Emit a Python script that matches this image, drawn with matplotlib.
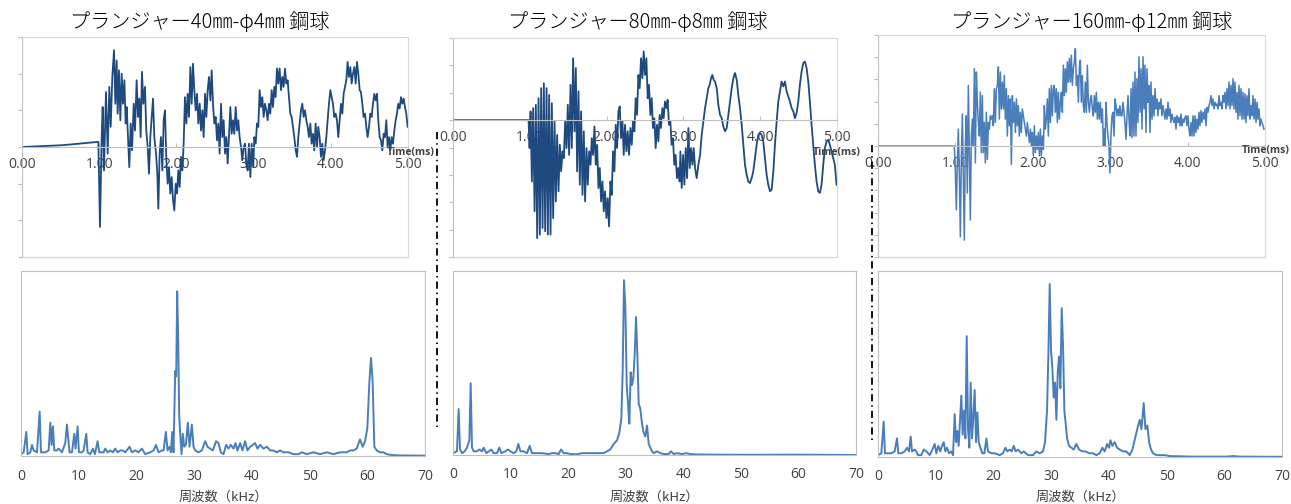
import matplotlib
matplotlib.use("Agg")
import matplotlib.pyplot as plt
from matplotlib.lines import Line2D

plt.rcParams['font.family'] = ['Noto Sans CJK JP', 'DejaVu Sans']

# -----------------------------
# DATA
# -----------------------------
titles = ["プランジャー40㎜-φ4㎜ 鋼球",
          "プランジャー80㎜-φ8㎜ 鋼球",
          "プランジャー160㎜-φ12㎜ 鋼球"]
time_ticks = [0, 1, 2, 3, 4, 5]
time_ticklabels = ["0.00", "1.00", "2.00", "3.00", "4.00", "5.00"]
freq_ticks = [0, 10, 20, 30, 40, 50, 60, 70]
time_label = "Time(ms)"
freq_label = "周波数（kHz）"

# waveform, 40mm plunger  (t [ms], amplitude)
wave_40 = [
    (0.000, 0.00), (0.530, 0.05), (0.989, 0.14), (1.010, -2.18), (1.032, 0.27),
    (1.045, 1.09), (1.062, -0.64), (1.088, 1.50), (1.110, -0.18), (1.131, 1.64),
    (1.149, 0.55), (1.170, 1.91), (1.192, 2.64), (1.209, 1.18), (1.226, 2.36),
    (1.239, 0.91), (1.256, 2.09), (1.274, 0.73), (1.291, 2.00), (1.308, 1.18),
    (1.326, 1.82), (1.343, 0.64), (1.356, 1.09), (1.373, 0.27), (1.390, -0.55),
    (1.408, 0.64), (1.425, -0.09), (1.447, 1.18), (1.464, 0.45), (1.485, 1.82),
    (1.503, 0.82), (1.520, 1.32), (1.537, 0.27), (1.554, 2.05), (1.572, 1.18),
    (1.593, 1.64), (1.610, 0.45), (1.628, 0.00), (1.645, -0.73), (1.662, 0.27),
    (1.680, 0.82), (1.697, 1.32), (1.714, 0.27), (1.736, -0.18), (1.753, -0.73),
    (1.766, -1.68), (1.783, -0.18), (1.800, 0.27), (1.818, -0.64), (1.835, 0.73),
    (1.852, 1.00), (1.870, -0.36), (1.887, -1.00), (1.904, -0.55), (1.921, -1.27),
    (1.939, -0.82), (1.956, -1.45), (1.973, -1.73), (1.991, -1.00), (2.008, -1.27),
    (2.025, -0.64), (2.042, -1.09), (2.060, -0.27), (2.077, -0.64), (2.094, 0.09),
    (2.111, 1.36), (2.129, 0.64), (2.146, 1.45), (2.163, 0.82), (2.181, 2.18),
    (2.198, 1.18), (2.215, 2.27), (2.232, 1.55), (2.250, 1.00), (2.267, 1.45),
    (2.284, 0.64), (2.302, 1.18), (2.319, 0.45), (2.336, 1.00), (2.353, 0.27),
    (2.371, 1.45), (2.388, 0.82), (2.405, 1.55), (2.422, 1.91), (2.440, 1.27),
    (2.457, 2.09), (2.474, 1.18), (2.491, 0.64), (2.509, 0.82), (2.526, 0.18),
    (2.543, 0.64), (2.560, -0.18), (2.578, 1.18), (2.595, 0.27), (2.612, 0.73),
    (2.630, -0.18), (2.647, 0.27), (2.664, -0.45), (2.681, 0.27), (2.699, 1.09),
    (2.716, 0.36), (2.733, 0.73), (2.750, 0.36), (2.768, 1.09), (2.785, 0.45),
    (2.802, 0.73), (2.819, 0.27), (2.837, 0.00), (2.854, -0.36), (2.871, 0.00),
    (2.889, 0.09), (2.906, -0.45), (2.923, -0.64), (2.940, 0.09), (2.958, -0.82),
    (2.975, 0.09), (2.996, -0.55), (3.009, 0.27), (3.027, 0.09), (3.044, 0.64),
    (3.061, 0.55), (3.078, 1.55), (3.096, 1.09), (3.113, 1.36), (3.130, 0.82),
    (3.147, 1.18), (3.165, 1.00), (3.182, 0.73), (3.199, 1.18), (3.216, 0.91),
    (3.234, 1.55), (3.251, 1.09), (3.268, 1.64), (3.285, 1.36), (3.303, 2.14),
    (3.320, 1.73), (3.337, 2.14), (3.355, 1.55), (3.372, 1.91), (3.389, 1.64),
    (3.406, 2.14), (3.424, 1.73), (3.441, 1.82), (3.458, 1.36), (3.475, 0.91),
    (3.493, 0.82), (3.510, 0.55), (3.527, 0.27), (3.545, -0.09), (3.562, -0.27),
    (3.579, 0.27), (3.596, 0.64), (3.614, 1.00), (3.631, 1.18), (3.648, 0.82),
    (3.665, 1.00), (3.683, 0.73), (3.700, 0.55), (3.717, 0.27), (3.735, 0.64),
    (3.752, 0.09), (3.769, 0.36), (3.786, -0.09), (3.804, 0.64), (3.821, 0.00),
    (3.838, 0.55), (3.855, 0.27), (3.873, -0.27), (3.890, 0.09), (3.907, -0.36),
    (3.925, -0.09), (3.942, 0.27), (3.959, 0.73), (3.976, 1.18), (3.994, 1.55),
    (4.011, 1.36), (4.028, 1.18), (4.045, 0.82), (4.063, 0.91), (4.080, 0.73),
    (4.097, 0.27), (4.115, 0.73), (4.132, 1.18), (4.149, 0.91), (4.166, 1.45),
    (4.184, 1.64), (4.201, 1.82), (4.218, 2.32), (4.235, 1.91), (4.253, 2.18),
    (4.270, 1.73), (4.287, 2.00), (4.305, 2.18), (4.322, 1.73), (4.339, 2.32),
    (4.356, 2.00), (4.374, 1.55), (4.391, 1.50), (4.408, 1.18), (4.425, 0.82),
    (4.443, 0.91), (4.460, 0.55), (4.477, 0.27), (4.495, 0.55), (4.512, 0.91),
    (4.529, 0.82), (4.546, 1.18), (4.564, 1.45), (4.581, 1.27), (4.598, 1.45),
    (4.615, 0.73), (4.633, 0.27), (4.650, 0.18), (4.667, -0.09), (4.685, 0.36),
    (4.702, 0.27), (4.719, 0.73), (4.736, 0.00), (4.754, 0.27), (4.771, -0.09),
    (4.788, 0.27), (4.805, 0.09), (4.823, 0.45), (4.840, 0.73), (4.857, 0.91),
    (4.874, 1.18), (4.892, 1.05), (4.909, 1.36), (4.926, 1.18), (4.944, 1.32),
    (4.961, 1.09), (4.978, 0.91), (4.995, 0.55),
]

# waveform, 80mm plunger
wave_80 = [
    (0.000, 0.00), (0.984, 0.00), (0.997, -1.02), (1.010, 0.32), (1.027, -2.24),
    (1.044, 0.44), (1.062, -3.33), (1.079, 0.56), (1.096, -4.31), (1.114, 0.80),
    (1.131, -4.18), (1.148, 1.17), (1.166, -3.94), (1.183, 1.35), (1.200, -4.06),
    (1.218, 1.17), (1.235, -4.18), (1.252, 0.92), (1.270, -4.18), (1.287, 0.62),
    (1.304, -3.58), (1.322, -0.05), (1.339, -2.97), (1.356, -0.54), (1.374, -2.60),
    (1.391, -0.90), (1.408, -1.87), (1.426, -1.14), (1.443, -1.39), (1.460, -0.05),
    (1.478, -1.02), (1.495, 0.56), (1.512, -1.27), (1.530, 1.29), (1.547, -1.02),
    (1.564, 2.26), (1.582, -0.41), (1.599, 1.90), (1.616, -1.87), (1.634, 1.05),
    (1.651, -2.36), (1.668, 0.32), (1.686, -2.73), (1.703, -0.41), (1.720, -2.97),
    (1.738, -1.02), (1.755, -2.36), (1.772, -1.14), (1.790, -1.63), (1.807, -0.66),
    (1.824, -1.27), (1.842, -0.23), (1.859, -1.63), (1.876, -0.90), (1.894, -2.48),
    (1.911, -1.75), (1.928, -2.97), (1.946, -2.24), (1.963, -3.33), (1.980, -2.60),
    (1.998, -3.58), (2.015, -2.85), (2.032, -3.88), (2.050, -2.24), (2.067, -2.73),
    (2.084, -1.14), (2.102, -1.87), (2.119, -0.17), (2.136, -1.02), (2.154, 0.32),
    (2.171, 0.50), (2.188, -0.66), (2.206, -0.05), (2.223, -1.27), (2.240, -0.17),
    (2.258, -1.14), (2.275, -0.41), (2.292, -1.27), (2.310, -0.29), (2.327, -0.90),
    (2.344, -0.05), (2.362, -0.41), (2.379, 0.80), (2.396, 0.19), (2.414, 1.65),
    (2.431, 1.17), (2.448, 2.26), (2.466, 1.53), (2.483, 2.51), (2.500, 1.65),
    (2.518, 2.26), (2.535, 0.80), (2.552, 1.29), (2.570, 0.19), (2.587, 0.80),
    (2.604, -0.29), (2.622, 0.07), (2.639, -1.02), (2.656, -0.17), (2.674, -0.78),
    (2.691, 0.19), (2.708, -0.29), (2.726, 0.44), (2.743, 0.07), (2.760, 0.68),
    (2.778, 0.44), (2.795, 0.74), (2.812, -0.17), (2.830, -0.05), (2.847, -0.90),
    (2.864, -0.66), (2.882, -1.63), (2.899, -1.27), (2.916, -2.12), (2.934, -1.75),
    (2.951, -2.24), (2.961, -1.14), (2.978, -2.48), (2.996, -1.27), (3.013, -2.36),
    (3.030, -1.02), (3.048, -2.12), (3.065, -0.29), (3.082, -1.75), (3.100, -1.02),
    (3.117, -1.63), (3.134, -1.02), (3.152, -1.75), (3.173, -2.12), (3.195, -1.63),
    (3.217, -1.27), (3.238, -0.54), (3.260, -0.05), (3.282, 0.44), (3.303, 0.80),
    (3.325, 1.17), (3.342, 1.29), (3.360, 1.53), (3.377, 1.65), (3.394, 1.47),
    (3.412, 1.41), (3.434, 1.17), (3.455, 0.56), (3.477, 0.19), (3.499, 0.07),
    (3.520, -0.23), (3.542, -0.41), (3.564, -0.29), (3.585, 0.19), (3.607, 0.68),
    (3.629, 1.17), (3.650, 1.53), (3.672, 1.72), (3.694, 1.47), (3.715, 0.92),
    (3.737, 0.44), (3.759, -0.17), (3.780, -0.90), (3.802, -1.63), (3.824, -2.00),
    (3.845, -2.24), (3.867, -2.30), (3.889, -2.12), (3.910, -1.87), (3.932, -1.39),
    (3.954, -0.90), (3.975, -0.54), (3.997, -0.47), (4.019, -0.54), (4.040, -0.78),
    (4.062, -1.39), (4.084, -2.00), (4.105, -2.36), (4.127, -2.60), (4.149, -2.54),
    (4.171, -1.87), (4.192, -0.90), (4.214, -0.05), (4.236, 0.68), (4.257, 1.05),
    (4.279, 1.41), (4.301, 1.23), (4.322, 1.41), (4.344, 1.05), (4.366, 0.86),
    (4.387, 0.68), (4.409, 0.44), (4.431, 0.32), (4.452, 0.07), (4.474, 0.26),
    (4.496, 0.68), (4.517, 1.29), (4.539, 1.78), (4.561, 2.08), (4.582, 2.14),
    (4.604, 1.90), (4.626, 1.41), (4.647, 0.68), (4.669, -0.17), (4.691, -0.90),
    (4.712, -1.63), (4.734, -2.24), (4.756, -2.60), (4.777, -2.66), (4.799, -2.36),
    (4.821, -1.63), (4.842, -1.02), (4.864, -0.78), (4.886, -0.72), (4.907, -0.90),
    (4.929, -1.14), (4.951, -1.39), (4.972, -1.63), (4.994, -2.36),
]

# waveform, 160mm plunger
wave_160 = [
    (0.000, 0.00), (0.986, 0.00), (0.999, -1.06), (1.012, -2.88), (1.025, -0.76),
    (1.038, 0.76), (1.051, -1.21), (1.064, -4.09), (1.077, -0.45), (1.090, 1.44),
    (1.103, -1.36), (1.115, -4.24), (1.128, 0.00), (1.141, 1.36), (1.154, -2.12),
    (1.167, 2.73), (1.180, -0.30), (1.193, -3.33), (1.206, 0.45), (1.219, 1.21),
    (1.232, 0.00), (1.245, 3.48), (1.258, -0.76), (1.271, 3.33), (1.284, 1.97),
    (1.296, 1.06), (1.309, 0.45), (1.322, 2.42), (1.335, -0.30), (1.348, 2.27),
    (1.361, -0.30), (1.374, 1.06), (1.387, -0.76), (1.400, 1.52), (1.413, -0.61),
    (1.426, 1.06), (1.439, 0.76), (1.452, 1.36), (1.465, 1.21), (1.477, 1.36),
    (1.490, 0.91), (1.503, 2.58), (1.516, 1.06), (1.529, 2.58), (1.542, 2.73),
    (1.555, 3.56), (1.568, 1.21), (1.581, 3.33), (1.594, 1.67), (1.607, 2.88),
    (1.620, 1.67), (1.632, 3.18), (1.645, 1.21), (1.658, 2.58), (1.671, 0.45),
    (1.684, 2.27), (1.697, 0.91), (1.710, 2.12), (1.723, -0.83), (1.736, 2.27),
    (1.749, 1.06), (1.762, 1.97), (1.775, 0.61), (1.788, 2.12), (1.801, 0.91),
    (1.813, 1.82), (1.826, 0.45), (1.839, 1.52), (1.852, 0.61), (1.865, 1.67),
    (1.878, 1.36), (1.891, 1.06), (1.904, 0.76), (1.917, 0.45), (1.930, 1.06),
    (1.943, 0.61), (1.956, 0.15), (1.969, 0.76), (1.982, 0.00), (1.994, 0.61),
    (2.007, -0.45), (2.020, 0.91), (2.033, -0.30), (2.046, 0.45), (2.059, -0.15),
    (2.072, 0.61), (2.085, -0.45), (2.098, 0.76), (2.111, -0.45), (2.124, 0.45),
    (2.137, -0.15), (2.149, 1.82), (2.162, 0.76), (2.175, 1.21), (2.188, 2.12),
    (2.201, 0.45), (2.214, 2.58), (2.227, 1.06), (2.240, 2.73), (2.253, 1.36),
    (2.266, 2.58), (2.278, 2.73), (2.291, 1.52), (2.304, 2.58), (2.317, 1.06),
    (2.330, 2.42), (2.343, 1.21), (2.356, 1.97), (2.369, 2.42), (2.382, 1.52),
    (2.395, 3.64), (2.408, 2.27), (2.421, 3.48), (2.433, 2.42), (2.446, 3.79),
    (2.459, 2.88), (2.472, 3.94), (2.485, 2.88), (2.498, 4.09), (2.511, 2.73),
    (2.524, 3.48), (2.537, 3.79), (2.550, 4.39), (2.563, 2.73), (2.576, 3.18),
    (2.589, 1.97), (2.601, 3.48), (2.614, 3.86), (2.627, 1.97), (2.640, 3.18),
    (2.653, 1.82), (2.666, 1.52), (2.679, 2.88), (2.692, 1.52), (2.705, 3.64),
    (2.718, 1.97), (2.731, 1.52), (2.744, 2.12), (2.756, 2.27), (2.769, 1.67),
    (2.782, 1.36), (2.795, 2.27), (2.808, 1.52), (2.821, 2.42), (2.834, 1.21),
    (2.847, 1.97), (2.860, 1.21), (2.873, 1.97), (2.886, 1.06), (2.899, 1.67),
    (2.912, 0.00), (2.924, 0.76), (2.933, 0.00), (2.946, 1.97), (2.958, 1.06),
    (2.971, 0.45), (2.984, 0.00), (2.997, -1.21), (3.010, 0.45), (3.023, 1.36),
    (3.036, 1.52), (3.049, 0.45), (3.062, 2.12), (3.075, 1.82), (3.088, 1.36),
    (3.101, 1.67), (3.113, 1.36), (3.126, 1.82), (3.139, 1.36), (3.152, 1.36),
    (3.165, 1.97), (3.178, 1.52), (3.191, 1.06), (3.204, 0.30), (3.217, 1.36),
    (3.230, 2.27), (3.243, 1.21), (3.256, 0.45), (3.269, 2.58), (3.281, 0.38),
    (3.294, 2.88), (3.307, 0.45), (3.320, 3.33), (3.333, 0.45), (3.346, 3.03),
    (3.359, 1.06), (3.372, 4.02), (3.385, 1.52), (3.398, 3.48), (3.411, 0.76),
    (3.424, 4.02), (3.437, 1.67), (3.449, 3.64), (3.462, 0.61), (3.475, 3.48),
    (3.488, 1.97), (3.501, 2.73), (3.514, 0.61), (3.527, 2.88), (3.540, 1.21),
    (3.553, 2.27), (3.566, 1.36), (3.579, 2.58), (3.592, 1.67), (3.605, 2.12),
    (3.617, 1.36), (3.630, 1.97), (3.643, 1.67), (3.656, 2.12), (3.669, 1.36),
    (3.682, 1.82), (3.695, 1.52), (3.708, 1.21), (3.721, 1.67), (3.734, 1.21),
    (3.747, 1.97), (3.760, 1.36), (3.772, 1.67), (3.785, 1.06), (3.798, 1.44),
    (3.811, 1.21), (3.824, 1.06), (3.837, 1.29), (3.850, 0.76), (3.863, 1.36),
    (3.876, 1.06), (3.889, 1.29), (3.902, 0.91), (3.915, 1.44), (3.928, 0.91),
    (3.940, 1.21), (3.953, 1.06), (3.966, 1.29), (3.979, 1.36), (3.992, 0.91),
    (4.005, 1.36), (4.018, 0.76), (4.031, 0.45), (4.044, 1.06), (4.057, 0.45),
    (4.070, 1.36), (4.083, 0.45), (4.096, 1.36), (4.108, 0.61), (4.121, 1.21),
    (4.134, 0.76), (4.147, 1.52), (4.160, 0.91), (4.173, 1.59), (4.186, 1.06),
    (4.199, 1.52), (4.212, 1.21), (4.225, 1.67), (4.238, 0.91), (4.251, 1.74),
    (4.264, 1.52), (4.276, 1.82), (4.289, 1.97), (4.302, 2.27), (4.315, 1.82),
    (4.328, 2.12), (4.341, 1.67), (4.354, 1.97), (4.367, 1.82), (4.380, 1.89),
    (4.393, 1.67), (4.406, 2.27), (4.419, 1.82), (4.431, 1.97), (4.444, 1.67),
    (4.457, 2.27), (4.470, 1.97), (4.483, 2.42), (4.496, 1.67), (4.509, 2.58),
    (4.522, 1.82), (4.535, 2.88), (4.548, 1.67), (4.561, 2.73), (4.574, 1.82),
    (4.587, 3.03), (4.599, 1.67), (4.612, 2.88), (4.625, 1.52), (4.638, 2.42),
    (4.651, 1.21), (4.664, 2.73), (4.677, 1.36), (4.690, 2.58), (4.703, 1.21),
    (4.716, 2.42), (4.729, 1.21), (4.742, 2.35), (4.754, 1.06), (4.767, 2.27),
    (4.780, 1.36), (4.793, 2.58), (4.806, 1.21), (4.819, 1.82), (4.832, 1.36),
    (4.845, 2.27), (4.858, 1.21), (4.871, 2.12), (4.884, 1.06), (4.897, 1.97),
    (4.910, 1.21), (4.922, 1.67), (4.935, 0.91), (4.948, 1.21), (4.961, 1.06),
    (4.974, 0.91), (4.987, 0.76),
]

# spectra (f [kHz], relative amplitude)
spec_40 = [
    (0.00, 0.01), (0.46, 0.02), (0.92, 0.13), (1.15, 0.01), (1.62, 0.02),
    (1.90, 0.06), (2.19, 0.03), (2.77, 0.02), (3.23, 0.24), (3.46, 0.02),
    (4.21, 0.02), (4.79, 0.03), (5.08, 0.18), (5.31, 0.06), (5.54, 0.16),
    (5.77, 0.03), (6.23, 0.03), (6.52, 0.04), (7.10, 0.02), (7.67, 0.07),
    (7.96, 0.17), (8.19, 0.09), (8.42, 0.02), (8.83, 0.02), (9.23, 0.12),
    (9.46, 0.04), (9.81, 0.16), (10.04, 0.02), (10.56, 0.02), (10.85, 0.03),
    (11.31, 0.12), (11.54, 0.02), (12.00, 0.01), (12.46, 0.04), (12.81, 0.01),
    (13.27, 0.08), (13.56, 0.02), (14.31, 0.02), (14.60, 0.04), (15.00, 0.02),
    (15.46, 0.03), (15.93, 0.02), (16.33, 0.04), (16.73, 0.02), (17.20, 0.03),
    (17.66, 0.03), (18.06, 0.02), (18.81, 0.05), (19.22, 0.02), (19.79, 0.03),
    (20.37, 0.02), (20.95, 0.04), (21.52, 0.01), (22.39, 0.02), (22.97, 0.03),
    (23.37, 0.06), (23.83, 0.02), (24.41, 0.03), (24.70, 0.03), (25.10, 0.13),
    (25.39, 0.03), (25.74, 0.05), (25.97, 0.02), (26.20, 0.13), (26.43, 0.02),
    (26.72, 0.46), (26.89, 0.43), (27.06, 0.89), (27.24, 0.62), (27.41, 0.22),
    (27.58, 0.12), (27.81, 0.01), (28.04, 0.12), (28.27, 0.05), (28.56, 0.06),
    (28.91, 0.18), (29.20, 0.05), (29.60, 0.17), (29.89, 0.05), (30.18, 0.03),
    (30.76, 0.02), (31.33, 0.03), (31.91, 0.08), (32.31, 0.05), (32.78, 0.04),
    (33.24, 0.03), (33.81, 0.08), (34.22, 0.07), (34.62, 0.02), (35.08, 0.01),
    (35.55, 0.06), (35.95, 0.04), (36.35, 0.06), (36.81, 0.04), (37.16, 0.07),
    (37.51, 0.03), (37.97, 0.07), (38.37, 0.03), (38.83, 0.08), (39.24, 0.03),
    (39.70, 0.05), (40.16, 0.06), (40.57, 0.07), (40.97, 0.04), (41.43, 0.06),
    (42.01, 0.04), (42.59, 0.05), (43.16, 0.03), (43.74, 0.03), (44.32, 0.02),
    (44.89, 0.03), (45.47, 0.02), (46.34, 0.02), (47.20, 0.01), (48.07, 0.01),
    (48.64, 0.02), (49.51, 0.01), (50.66, 0.02), (51.82, 0.01), (52.97, 0.02),
    (54.13, 0.01), (55.28, 0.02), (56.43, 0.02), (57.01, 0.03), (57.59, 0.03),
    (58.17, 0.04), (58.74, 0.09), (59.20, 0.05), (59.61, 0.08), (60.01, 0.15),
    (60.36, 0.40), (60.65, 0.53), (60.93, 0.40), (61.22, 0.05), (61.63, 0.03),
    (62.20, 0.02), (62.78, 0.02), (63.36, 0.01), (64.22, 0.005), (65.67, 0.003),
    (70.00, 0.002),
]

spec_80 = [
    (0.00, 0.01), (0.69, 0.02), (0.98, 0.25), (1.22, 0.03), (1.56, 0.01),
    (2.03, 0.02), (2.43, 0.04), (2.84, 0.08), (3.07, 0.39), (3.30, 0.04),
    (3.59, 0.02), (4.17, 0.02), (4.57, 0.03), (5.04, 0.02), (5.33, 0.04),
    (5.79, 0.01), (6.66, 0.03), (7.06, 0.01), (7.64, 0.01), (8.05, 0.04),
    (8.40, 0.01), (9.09, 0.02), (9.55, 0.03), (9.96, 0.02), (10.54, 0.01),
    (11.00, 0.02), (11.35, 0.06), (11.70, 0.02), (12.28, 0.02), (12.85, 0.01),
    (13.32, 0.05), (13.72, 0.01), (14.59, 0.01), (15.46, 0.01), (16.62, 0.005),
    (17.20, 0.01), (17.78, 0.01), (18.36, 0.005), (18.76, 0.03), (19.22, 0.01),
    (19.80, 0.01), (20.38, 0.005), (21.54, 0.004), (22.41, 0.01), (23.28, 0.01),
    (24.44, 0.01), (25.30, 0.01), (26.17, 0.01), (26.75, 0.02), (27.33, 0.03),
    (27.91, 0.06), (28.49, 0.08), (28.89, 0.12), (29.24, 0.20), (29.47, 0.45),
    (29.70, 0.95), (29.94, 0.80), (30.17, 0.38), (30.40, 0.28), (30.63, 0.17),
    (30.86, 0.45), (31.09, 0.38), (31.33, 0.42), (31.56, 0.55), (31.79, 0.75),
    (32.02, 0.55), (32.25, 0.28), (32.54, 0.25), (32.83, 0.17), (33.12, 0.12),
    (33.41, 0.10), (33.70, 0.16), (33.99, 0.06), (34.28, 0.04), (34.57, 0.02),
    (34.86, 0.01), (35.44, 0.02), (36.02, 0.01), (36.60, 0.005), (37.46, 0.005),
    (37.87, 0.02), (38.33, 0.005), (38.91, 0.01), (39.78, 0.005), (40.53, 0.01),
    (41.23, 0.005), (42.39, 0.003), (45.28, 0.002), (51.07, 0.001), (59.76, 0.002),
    (70.00, 0.0),
]

spec_160 = [
    (0.00, 0.01), (0.58, 0.02), (0.98, 0.19), (1.21, 0.02), (1.73, 0.02),
    (2.31, 0.02), (2.89, 0.03), (3.29, 0.10), (3.52, 0.02), (4.04, 0.02),
    (4.62, 0.03), (5.03, 0.05), (5.37, 0.03), (5.66, 0.11), (5.89, 0.03),
    (6.35, 0.04), (6.64, 0.03), (6.93, 0.01), (7.51, 0.01), (7.91, 0.04),
    (8.38, 0.03), (8.95, 0.01), (9.42, 0.04), (9.82, 0.07), (10.11, 0.02),
    (10.46, 0.06), (10.80, 0.03), (11.09, 0.06), (11.38, 0.08), (11.67, 0.03),
    (11.96, 0.05), (12.31, 0.02), (12.71, 0.03), (13.00, 0.01), (13.29, 0.23),
    (13.52, 0.08), (13.75, 0.14), (13.98, 0.06), (14.21, 0.20), (14.44, 0.33),
    (14.67, 0.12), (14.90, 0.25), (15.14, 0.10), (15.37, 0.65), (15.60, 0.15),
    (15.83, 0.05), (16.06, 0.40), (16.29, 0.10), (16.52, 0.22), (16.75, 0.36),
    (16.98, 0.08), (17.22, 0.24), (17.45, 0.08), (17.74, 0.05), (18.08, 0.02),
    (18.43, 0.02), (18.78, 0.10), (19.06, 0.03), (19.64, 0.02), (20.22, 0.02),
    (21.09, 0.01), (21.66, 0.02), (22.07, 0.05), (22.41, 0.03), (22.82, 0.04),
    (23.17, 0.03), (23.51, 0.06), (23.86, 0.03), (24.26, 0.04), (24.84, 0.02),
    (25.25, 0.03), (26.00, 0.01), (26.86, 0.01), (27.44, 0.03), (28.02, 0.02),
    (28.60, 0.03), (28.94, 0.08), (29.29, 0.25), (29.52, 0.55), (29.75, 0.93),
    (29.98, 0.57), (30.21, 0.48), (30.44, 0.32), (30.68, 0.40), (30.91, 0.20),
    (31.14, 0.45), (31.37, 0.54), (31.60, 0.37), (31.83, 0.80), (32.06, 0.60),
    (32.29, 0.25), (32.52, 0.18), (32.76, 0.10), (33.10, 0.06), (33.51, 0.05),
    (33.91, 0.04), (34.37, 0.07), (34.84, 0.04), (35.41, 0.03), (35.99, 0.03),
    (36.57, 0.02), (37.26, 0.02), (37.84, 0.01), (38.42, 0.02), (38.88, 0.05),
    (39.28, 0.03), (39.69, 0.07), (40.03, 0.05), (40.27, 0.09), (40.61, 0.06),
    (41.02, 0.08), (41.42, 0.05), (41.88, 0.04), (42.46, 0.03), (43.04, 0.03),
    (43.62, 0.01), (44.08, 0.04), (44.54, 0.10), (45.00, 0.16), (45.35, 0.20),
    (45.64, 0.15), (46.04, 0.29), (46.33, 0.15), (46.68, 0.17), (46.97, 0.08),
    (47.31, 0.04), (47.66, 0.02), (48.24, 0.01), (49.10, 0.01), (49.68, 0.01),
    (50.55, 0.005), (51.71, 0.004), (54.59, 0.002), (60.37, 0.002), (61.53, 0.005),
    (62.68, 0.002), (70.00, 0.001),
]

# -----------------------------
# LAYOUT (pixels of the 1291x504 picture)
# -----------------------------
W, H = 1291, 504
DARK = "#1f4a80"
BLUE = "#4a7ebb"
GRID = "#bfbfbf"
BOX = "#d9d9d9"
TXT = "#404040"


def px_axes(fig, x0, y0, x1, y1):
    return fig.add_axes([x0 / W, 1 - y1 / H, (x1 - x0) / W, (y1 - y0) / H])


def wave_panel(ax, pts, color, lw, ylim):
    t = [p[0] for p in pts]
    v = [p[1] for p in pts]
    ax.plot(t, v, color=color, lw=lw, solid_joinstyle="round")
    ax.set_xlim(0, 5)
    ax.set_ylim(*ylim)
    for side in ("top", "right"):
        ax.spines[side].set_color(BOX)
    ax.spines["left"].set_color(GRID)
    ax.spines["bottom"].set_position(("data", 0))
    ax.spines["bottom"].set_color(GRID)
    ax.axhline(ylim[0], color=BOX, lw=1.0, clip_on=False)
    ax.set_yticks(range(ylim[0], ylim[1] + 1))
    ax.set_yticklabels([])
    ax.tick_params(axis="y", length=3, color=GRID, direction="out")
    ax.set_xticks(time_ticks)
    ax.set_xticklabels(time_ticklabels, family="Open Sans", fontsize=10, color=TXT)
    ax.tick_params(axis="x", length=3, color=GRID, direction="in", pad=7)


def spec_panel(ax, pts):
    f = [p[0] for p in pts]
    a = [p[1] for p in pts]
    ax.plot(f, a, color=BLUE, lw=1.4, solid_joinstyle="round")
    ax.set_xlim(0, 70)
    ax.set_ylim(0, 1)
    for s in ax.spines.values():
        s.set_color(GRID)
    ax.set_yticks([])
    ax.set_xticks(freq_ticks)
    ax.set_xticklabels([str(v) for v in freq_ticks], family="Open Sans",
                       fontsize=10, color=TXT)
    ax.tick_params(axis="x", length=0, pad=9)


fig = plt.figure(figsize=(W / 100, H / 100), dpi=100)

ax1 = px_axes(fig, 22, 37, 408, 257)
wave_panel(ax1, wave_40, DARK, 1.3, (-3, 3))
ax2 = px_axes(fig, 453, 38, 837, 257)
wave_panel(ax2, wave_80, DARK, 1.3, (-5, 3))
ax3 = px_axes(fig, 878, 35, 1265, 257)
wave_panel(ax3, wave_160, BLUE, 1.1, (-5, 5))

bx1 = px_axes(fig, 21, 271, 425, 456)
spec_panel(bx1, spec_40)
bx2 = px_axes(fig, 453, 271, 856, 455)
spec_panel(bx2, spec_80)
bx3 = px_axes(fig, 878, 271, 1282, 457)
spec_panel(bx3, spec_160)

# titles
for title, cx in zip(titles, (200, 638, 1092)):
    fig.text(cx / W, 1 - 22 / H, title, ha="center", va="center", fontsize=14.5,
             fontweight="light", color="black")

# Time(ms) labels
for x, y in ((387, 152), (813, 153), (1242, 150)):
    fig.text(x / W, 1 - y / H, time_label, ha="left", va="center", fontsize=7.5,
             fontweight="bold", family="Open Sans", color=TXT)

# frequency axis labels
for x0, x1 in ((21, 425), (453, 856), (878, 1282)):
    fig.text((x0 + x1) / 2 / W, 1 - 497 / H, freq_label, ha="center", va="center",
             fontsize=9.5, color=TXT)

# dash-dot separators
for x, y0, y1 in ((437, 132, 427), (872, 145, 442)):
    fig.add_artist(Line2D([x / W, x / W], [1 - y0 / H, 1 - y1 / H],
                          transform=fig.transFigure, color="black", lw=1.3,
                          linestyle=(0, (4, 2.2, 0.8, 2.2))))

fig.savefig("out.png", dpi=100)
